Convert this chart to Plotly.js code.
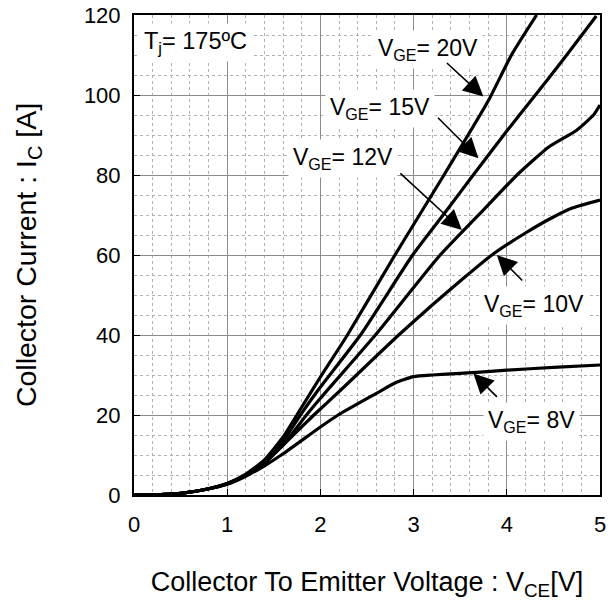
<!DOCTYPE html>
<html>
<head>
<meta charset="utf-8">
<script src="https://cdn.plot.ly/plotly-3.0.1.min.js"></script>
<style>html,body{margin:0;padding:0;background:#fff;}#chart{width:613px;height:609px;}</style>
</head>
<body>
<div id="chart"></div>
<script>
// VGE = 20 V
var v20x = [0, 0.25, 0.5, 0.75, 1.0, 1.2, 1.4, 1.6, 1.8, 2.0, 2.29, 2.8, 3.3, 3.8, 4.05, 4.32];
var v20y = [0, 0.05, 0.4, 1.3, 2.9, 5.2, 8.8, 14.5, 22, 29.5, 40, 60, 79, 98.5, 110, 120];
// VGE = 15 V
var v15x = [0, 0.25, 0.5, 0.75, 1.0, 1.2, 1.4, 1.6, 1.8, 2.0, 2.43, 2.99, 3.36, 3.64, 4.0, 4.29, 4.61, 4.96];
var v15y = [0, 0.05, 0.4, 1.3, 2.85, 5, 8.4, 13.5, 20.5, 27, 40, 60, 71.3, 80, 91, 99.5, 109, 119.75];
// VGE = 12 V
var v12x = [0, 0.25, 0.5, 0.75, 1.0, 1.2, 1.4, 1.6, 1.85, 2.0, 2.59, 3.285, 3.75, 4.11, 4.45, 4.75, 4.93, 5.0];
var v12y = [0, 0.05, 0.4, 1.3, 2.8, 4.9, 8.0, 12.5, 20, 24.2, 40, 60, 71.3, 80, 87, 91.2, 95, 97.5];
// VGE = 10 V
var v10x = [0, 0.25, 0.5, 0.75, 1.0, 1.2, 1.4, 1.6, 1.93, 2.23, 2.5, 2.84, 3.2, 3.5, 3.84, 4.2, 4.5, 4.71, 5.0];
var v10y = [0, 0.05, 0.4, 1.3, 2.75, 4.9, 8.0, 12.5, 20, 26.5, 32.5, 40, 47.5, 53.5, 60, 65.5, 69.5, 71.8, 73.75];
// VGE = 8 V
var v8x = [0, 0.25, 0.5, 0.75, 1.0, 1.2, 1.4, 1.6, 2.0, 2.19, 2.6, 2.8, 3.0, 3.2, 3.5, 4.0, 4.5, 5.0];
var v8y = [0, 0.05, 0.4, 1.3, 2.7, 4.7, 7.3, 10.3, 17, 20, 25.4, 28, 29.6, 30.0, 30.4, 31.2, 31.9, 32.5];

var xTicks = [0, 1, 2, 3, 4, 5];
var yTicks = [0, 20, 40, 60, 80, 100, 120];

var labels = ['V<sub>GE</sub>= 20V', 'V<sub>GE</sub>= 15V', 'V<sub>GE</sub>= 12V', 'V<sub>GE</sub>= 10V', 'V<sub>GE</sub>= 8V'];
var labelX = [3.157, 2.642, 2.245, 4.292, 4.26];
var labelY = [111.4, 96.6, 84.25, 47.5, 18.4];
var tipX = [3.749, 3.696, 3.518, 3.893, 3.642];
var tipY = [99.6, 84.2, 66.25, 60, 30.4];
var tailDX = [-38, -42, -63, 27, 25];
var tailDY = [-35, -42, -58, 27, 25];
var tempLabel = 'T<sub>j</sub>= 175ºC';

var FONT = 'Arial, "Liberation Sans", sans-serif';
var series = [[v20x, v20y], [v15x, v15y], [v12x, v12y], [v10x, v10y], [v8x, v8y]];
var traces = series.map(function (s) {
  return {x: s[0], y: s[1], mode: 'lines', type: 'scatter',
    line: {color: '#000', width: 3.2, shape: 'spline', smoothing: 0.5},
    hoverinfo: 'skip', showlegend: false, cliponaxis: true};
});

var ann = [];
ann.push({x: 0.05, y: 113.1, xref: 'x', yref: 'y', text: tempLabel, showarrow: false,
  xanchor: 'left', yanchor: 'middle', bgcolor: '#fff', borderpad: 4,
  font: {family: FONT, size: 23.5, color: '#000'}});
for (var i = 0; i < labels.length; i++) {
  ann.push({x: labelX[i], y: labelY[i], xref: 'x', yref: 'y', text: labels[i], showarrow: false,
    xanchor: 'center', yanchor: 'middle', bgcolor: '#fff', borderpad: 4,
    font: {family: FONT, size: 23, color: '#000'}});
  ann.push({x: tipX[i], y: tipY[i], xref: 'x', yref: 'y', text: '', showarrow: true,
    ax: tailDX[i], ay: tailDY[i], arrowhead: 2, arrowsize: 2.5, arrowwidth: 1.6, arrowcolor: '#000',
    standoff: 0, startstandoff: 0});
}

var layout = {
  width: 613, height: 609,
  margin: {l: 134, r: 13, t: 15, b: 114},
  paper_bgcolor: '#fff', plot_bgcolor: '#fff',
  font: {family: FONT, size: 22, color: '#000'},
  showlegend: false,
  xaxis: {
    range: [0, 5], tickvals: xTicks, ticktext: xTicks.map(String),
    showline: true, linecolor: '#000', linewidth: 2, mirror: true,
    showgrid: true, gridcolor: '#8c8c8c', gridwidth: 1,
    ticks: 'inside', ticklen: 6, tickcolor: '#000', tickwidth: 1,
    zeroline: false, fixedrange: true,
    minor: {dtick: 0.2, showgrid: true, gridcolor: '#b0b0b0', griddash: 'dot', gridwidth: 1, ticks: ''},
    tickfont: {family: FONT, size: 22, color: '#000'},
    ticklabelstandoff: 9,
    title: {text: 'Collector To Emitter Voltage : V<sub>CE</sub>[V]', standoff: 36,
      font: {family: FONT, size: 27, color: '#000'}}
  },
  yaxis: {
    range: [0, 120], tickvals: yTicks, ticktext: yTicks.map(String),
    showline: true, linecolor: '#000', linewidth: 2, mirror: true,
    showgrid: true, gridcolor: '#8c8c8c', gridwidth: 1,
    ticks: 'inside', ticklen: 6, tickcolor: '#000', tickwidth: 1,
    zeroline: false, fixedrange: true,
    minor: {dtick: 5, showgrid: true, gridcolor: '#b0b0b0', griddash: 'dot', gridwidth: 1, ticks: ''},
    tickfont: {family: FONT, size: 22, color: '#000'},
    ticklabelstandoff: 7,
    title: {text: 'Collector Current : I<sub>C</sub> [A]', standoff: 39,
      font: {family: FONT, size: 28.5, color: '#000'}}
  },
  annotations: ann
};

Plotly.newPlot('chart', traces, layout, {displayModeBar: false, staticPlot: true});
</script>
</body>
</html>
